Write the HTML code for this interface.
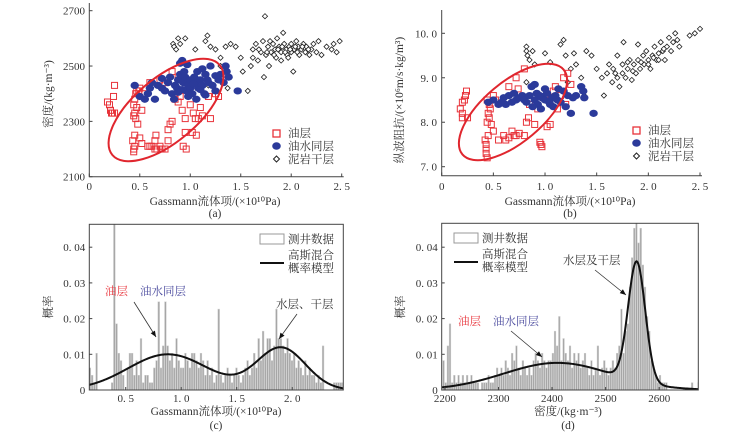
<!DOCTYPE html>
<html><head><meta charset="utf-8">
<style>
html,body{margin:0;padding:0;background:#fff;}
svg{display:block;font-family:"Liberation Serif","Noto Serif CJK SC","Noto Sans CJK SC",serif;}
.tk{font-size:11px;fill:#333;}
.lb{font-size:11.5px;fill:#333;}
</style></head>
<body>
<svg id="fig" width="746" height="435" viewBox="0 0 746 435" xmlns="http://www.w3.org/2000/svg"></svg>
<script>
// ---------- DATA ----------
const aRed=[[0.18,2370],[0.2,2360],[0.22,2330],[0.23,2330],[0.25,2330],[0.24,2390],[0.25,2430],[0.21,2340],[0.43,2230],[0.44,2200],[0.44,2190],[0.45,2210],[0.45,2250],[0.44,2320],[0.45,2330],[0.46,2310],[0.44,2360],[0.45,2380],[0.46,2400],[0.47,2410],[0.49,2410],[0.5,2420],[0.48,2290],[0.5,2240],[0.52,2220],[0.55,2400],[0.6,2440],[0.58,2210],[0.6,2210],[0.62,2210],[0.65,2200],[0.67,2200],[0.7,2210],[0.72,2200],[0.75,2200],[0.78,2230],[0.66,2250],[0.65,2230],[0.7,2450],[0.75,2440],[0.78,2270],[0.8,2290],[0.82,2300],[0.85,2380],[0.88,2370],[0.9,2390],[0.92,2340],[0.95,2310],[0.93,2210],[0.96,2200],[0.95,2260],[1.0,2360],[1.03,2330],[1.05,2310],[1.08,2310],[1.02,2260],[1.06,2250],[1.1,2350],[1.12,2320],[1.2,2310],[1.18,2390],[1.25,2400],[1.28,2390],[0.82,2480],[0.88,2460],[0.52,2340],[0.47,2350]];
const aBlue=[[0.45,2430],[0.5,2390],[0.55,2380],[0.58,2400],[0.6,2420],[0.62,2440],[0.65,2380],[0.68,2430],[0.72,2420],[0.75,2410],[0.78,2440],[0.8,2460],[0.82,2400],[0.85,2430],[0.87,2420],[0.88,2450],[0.9,2470],[0.9,2510],[0.92,2520],[0.93,2440],[0.95,2460],[0.96,2410],[0.98,2430],[1.0,2450],[1.0,2420],[1.02,2400],[1.04,2460],[1.05,2440],[1.07,2480],[1.08,2420],[1.1,2450],[1.12,2430],[1.14,2400],[1.15,2470],[1.17,2450],[1.18,2440],[1.2,2500],[1.22,2430],[1.25,2410],[1.28,2450],[1.3,2470],[1.33,2440],[1.35,2500],[1.36,2480],[1.38,2460],[1.47,2410],[0.98,2390],[1.06,2380],[0.94,2480],[1.12,2490],[0.84,2380],[1.15,2395],[1.25,2465],[0.72,2455],[0.97,2505],[0.92,2415],[1.03,2435],[1.1,2415],[0.88,2405]];
const aBlack=[[0.83,2580],[0.84,2570],[0.86,2560],[0.88,2600],[0.9,2580],[0.95,2600],[1.05,2560],[1.15,2590],[1.17,2610],[1.2,2570],[1.25,2560],[1.3,2530],[1.3,2500],[1.35,2570],[1.4,2580],[1.45,2570],[1.5,2530],[1.52,2480],[1.57,2410],[1.6,2500],[1.62,2560],[1.65,2580],[1.67,2520],[1.7,2550],[1.72,2590],[1.74,2680],[1.73,2460],[1.75,2540],[1.77,2570],[1.78,2500],[1.8,2550],[1.82,2580],[1.84,2560],[1.85,2530],[1.86,2600],[1.88,2570],[1.9,2550],[1.9,2520],[1.92,2620],[1.93,2580],[1.95,2560],[1.96,2540],[1.98,2570],[2.0,2550],[2.0,2580],[2.02,2480],[2.03,2560],[2.05,2590],[2.07,2570],[2.08,2540],[2.1,2560],[2.12,2580],[2.14,2550],[2.15,2570],[2.18,2540],[2.2,2560],[2.22,2580],[2.25,2550],[2.27,2590],[2.3,2540],[2.35,2570],[2.4,2560],[2.42,2580],[2.45,2550],[2.48,2590],[1.0,2450],[1.18,2430],[1.37,2420],[1.62,2530],[1.68,2560],[1.76,2550],[1.83,2540],[1.87,2560],[1.94,2550],[1.99,2560],[2.06,2550],[2.11,2570],[2.17,2560],[1.79,2590],[1.91,2570],[1.97,2530],[2.04,2570]];
const bRed=[[0.18,8.3],[0.2,8.2],[0.2,8.1],[0.22,8.5],[0.23,8.6],[0.24,8.7],[0.25,8.1],[0.2,8.45],[0.42,7.6],[0.43,7.5],[0.43,7.3],[0.44,7.2],[0.43,7.4],[0.45,7.7],[0.44,8.0],[0.45,8.2],[0.46,8.1],[0.47,8.3],[0.44,8.5],[0.5,8.6],[0.48,7.95],[0.5,7.8],[0.55,7.6],[0.6,7.7],[0.62,7.6],[0.65,7.65],[0.68,7.8],[0.7,7.7],[0.72,7.7],[0.75,7.75],[0.8,7.7],[0.65,8.8],[0.72,9.0],[0.74,8.75],[0.82,8.0],[0.84,8.1],[0.85,8.4],[0.9,7.95],[0.93,8.3],[0.95,7.55],[0.96,7.5],[0.97,7.45],[1.0,8.55],[1.02,7.9],[1.05,7.95],[1.08,8.7],[1.1,8.8],[1.12,8.3],[1.15,8.6],[1.18,9.0],[1.2,8.4],[1.22,9.1],[1.25,8.85],[0.8,9.2],[0.52,8.5],[0.46,8.4]];
const bBlue=[[0.45,8.45],[0.5,8.5],[0.55,8.4],[0.6,8.55],[0.62,8.4],[0.65,8.6],[0.68,8.45],[0.72,8.5],[0.75,8.55],[0.78,8.6],[0.8,8.5],[0.82,8.45],[0.85,8.6],[0.87,8.8],[0.9,8.85],[0.9,8.5],[0.93,8.4],[0.95,8.6],[0.97,8.55],[1.0,8.5],[1.02,8.65],[1.05,8.4],[1.07,8.55],[1.1,8.6],[1.12,8.5],[1.15,8.45],[1.18,8.7],[1.2,8.35],[1.22,8.6],[1.25,8.2],[1.27,8.55],[1.3,8.6],[1.35,8.8],[1.37,8.7],[1.38,8.55],[1.47,8.2],[0.88,8.35],[1.0,8.75],[0.7,8.65],[1.13,8.75],[0.96,8.3],[1.08,8.35],[0.92,8.65],[1.04,8.45],[0.58,8.45]];
const bBlack=[[0.82,9.7],[0.82,9.6],[0.83,9.5],[0.85,9.4],[0.88,9.6],[0.9,9.3],[1.0,9.55],[1.05,9.35],[1.15,9.75],[1.18,9.85],[1.2,9.5],[1.25,9.2],[1.28,9.55],[1.3,9.3],[1.35,9.0],[1.38,8.6],[1.4,9.6],[1.45,9.5],[1.5,9.2],[1.55,9.0],[1.57,8.6],[1.6,9.1],[1.62,9.3],[1.65,8.9],[1.68,9.1],[1.7,9.5],[1.72,8.8],[1.75,9.3],[1.76,9.8],[1.78,9.0],[1.8,9.2],[1.82,9.4],[1.84,8.95],[1.86,9.3],[1.88,9.1],[1.9,9.75],[1.9,9.4],[1.92,9.2],[1.95,9.5],[1.96,9.3],[1.98,9.6],[2.0,9.4],[2.02,9.2],[2.04,9.5],[2.06,9.7],[2.08,9.4],[2.1,9.55],[2.12,9.8],[2.14,9.6],[2.16,9.4],[2.18,9.7],[2.2,9.9],[2.22,9.6],[2.24,9.8],[2.26,10.0],[2.28,9.85],[2.3,9.7],[2.4,9.95],[2.45,10.0],[2.5,10.1],[0.82,8.9],[1.22,8.9],[1.3,8.6],[1.7,9.0],[1.8,9.35],[1.85,9.15],[1.93,9.35],[2.0,9.3],[2.05,9.45],[2.1,9.4],[2.15,9.65],[1.75,9.1],[1.66,9.2]];
const cCounts=[3,2,1,5,0,0,0,0,0,0,1,23,9,5,4,2,0,3,5,5,2,4,2,7,1,2,2,1,1,3,4,12,3,6,12,6,4,5,3,7,4,3,3,5,4,3,5,5,4,3,5,4,2,4,2,3,1,2,11,2,1,2,3,2,1,2,3,2,1,2,3,4,2,3,5,3,7,4,8,5,7,7,4,6,11,7,7,6,5,7,5,4,5,3,4,3,2,4,2,3,2,2,1,2,1,6,0,0,0,0,1,1,1,1,1];
const cStart=0.17, cBin=0.02;
const dCounts=[4,1,6,9,1,2,1,2,1,2,1,2,1,2,1,1,1,0,1,1,1,2,1,1,2,3,2,3,2,4,3,2,5,4,6,3,2,4,3,2,3,2,4,5,4,3,5,4,3,4,4,5,8,6,10,4,7,5,4,6,3,5,4,5,3,4,5,3,2,4,2,3,6,2,3,4,3,2,3,4,3,5,6,11,5,8,9,14,18,22,24,20,22,17,14,10,8,4,3,2,1,2,1,1,1,0,0,0,0,0,0,0,0,0,0,0,1,0,0,1];
const dStart=2196, dBin=4;
const countUnit=0.00206;
const cMeans=[0.88,1.9], cSds=[0.36,0.22], cAmps=[0.0100,0.0118];
const dMeans=[2410,2558], dSds=[100,16], dAmps=[0.0076,0.0335];
const abXTicks=[0,0.5,1.0,1.5,2.0,2.5], abXLabels=["0","0. 5","1. 0","1. 5","2. 0","2. 5"];
const aYTicks=[2100,2300,2500,2700];
const bYTicks=[7,8,9,10], bYLabels=["7. 0","8. 0","9. 0","10. 0"];
const cXTicks=[0.5,1.0,1.5,2.0], cXLabels=["0. 5","1. 0","1. 5","2. 0"];
const pYTicks=[0,0.01,0.02,0.03,0.04], pYLabels=["0","0. 01","0. 02","0. 03","0. 04"];
const dXTicks=[2200,2300,2400,2500,2600];

// ---------- helpers ----------
const svg=document.getElementById('fig');
const NS='http://www.w3.org/2000/svg';
function mk(tag,attrs,parent){const e=document.createElementNS(NS,tag);for(const k in attrs)e.setAttribute(k,attrs[k]);(parent||svg).appendChild(e);return e;}
function lin(d0,d1,p0,p1){return v=>p0+(v-d0)/(d1-d0)*(p1-p0);}
function txt(x,y,s,cls,anchor,parent,fill){const t=mk('text',{x:x,y:y,class:cls,'text-anchor':anchor||'middle'},parent);if(fill)t.style.fill=fill;t.textContent=s;return t;}

// ---------- panel a ----------
const ax=lin(0,2.5,89.3,341.7), ay=lin(2100,2700,176.7,10.7);
const ga=mk('g',{});


const gb=mk('g',{});


const gc=mk('g',{});


const gd=mk('g',{});



function scatterPanel(g,X,Y,red,blue,black){
  black.forEach(p=>{const s=2.6;const e=mk('path',{d:`M${X(p[0])},${Y(p[1])-s}L${X(p[0])+s},${Y(p[1])}L${X(p[0])},${Y(p[1])+s}L${X(p[0])-s},${Y(p[1])}Z`,fill:'#fff',stroke:'#222','stroke-width':0.8},g);
    
    });
  red.forEach(p=>{const e=mk('rect',{x:X(p[0])-3,y:Y(p[1])-3,width:6,height:6,fill:'none',stroke:'#e8333a','stroke-width':1},g);
    
    });
  blue.forEach(p=>{const e=mk('ellipse',{cx:X(p[0]),cy:Y(p[1]),rx:4.2,ry:3.6,fill:'#2b3a9a'},g);
    
    });
}
mk('path',{d:`M89.3,3V176.7H343.7`,fill:'none',stroke:'#444','stroke-width':1},ga);
abXTicks.forEach((v,i)=>{mk('line',{x1:ax(v),x2:ax(v),y1:176.7,y2:173.5,stroke:'#444'},ga);const t=txt(ax(v),190,abXLabels[i],'tk','middle',ga);});
aYTicks.forEach(v=>{mk('line',{x1:89.3,x2:92.5,y1:ay(v),y2:ay(v),stroke:'#444'},ga);const t=txt(85,ay(v)+4,String(v),'tk','end',ga);});
scatterPanel(ga,ax,ay,aRed,aBlue,aBlack);
const ea=mk('ellipse',{cx:166,cy:110,rx:70,ry:32,fill:'none',stroke:'#e0262e','stroke-width':2,transform:'rotate(-40 166 110)'},ga);



// ---------- panel b ----------
const bx=lin(0,2.5,441.7,700), by=lin(7,10,166.7,33.3);
mk('path',{d:`M441.7,10V175.7H702`,fill:'none',stroke:'#444'},gb);
abXTicks.forEach((v,i)=>{mk('line',{x1:bx(v),x2:bx(v),y1:175.7,y2:172.5,stroke:'#444'},gb);const t=txt(bx(v),190,abXLabels[i],'tk','middle',gb);});
bYTicks.forEach((v,i)=>{mk('line',{x1:441.7,x2:445,y1:by(v),y2:by(v),stroke:'#444'},gb);const t=txt(437,by(v)+4,bYLabels[i],'tk','end',gb);});
scatterPanel(gb,bx,by,bRed,bBlue,bBlack);
const eb=mk('ellipse',{cx:513,cy:112,rx:66,ry:30,fill:'none',stroke:'#e0262e','stroke-width':2,transform:'rotate(-40 513 112)'},gb);



function scLegend(g,x,y0){
  mk('rect',{x:x-3,y:y0-3,width:7,height:7,fill:'none',stroke:'#e8333a','stroke-width':1.3},g);
  mk('ellipse',{cx:x+0.5,cy:y0+13,rx:4.3,ry:3.7,fill:'#2b3a9a'},g);
  mk('path',{d:`M${x+0.5},${y0+23}l3,3l-3,3l-3,-3z`,fill:'none',stroke:'#222'},g);
  const l1=txt(x+12,y0+4,'油层','lb','start',g);
  const l2=txt(x+12,y0+17,'油水同层','lb','start',g);
  const l3=txt(x+12,y0+30,'泥岩干层','lb','start',g);
}
scLegend(ga,276,133);
scLegend(gb,636,130);
let t;
t=txt(215,205,'Gassmann流体项/(×10¹⁰Pa)','lb','middle',ga);
t=txt(215,217,'(a)','lb','middle',ga);
t=txt(0,0,'密度/(kg·m⁻³)','lb','middle',ga);t.setAttribute('transform','translate(52,94) rotate(-90)');
t=txt(570,205,'Gassmann流体项/(×10¹⁰Pa)','lb','middle',gb);
t=txt(570,217,'(b)','lb','middle',gb);
t=txt(0,0,'纵波阻抗/(×10⁶m/s·kg/m³)','lb','middle',gb);t.setAttribute('transform','translate(403,100) rotate(-90)');

// ---------- histogram panels ----------
function gauss(v,M,S,A){let s=0;for(let i=0;i<M.length;i++)s+=A[i]*Math.exp(-((v-M[i])**2)/(2*S[i]*S[i]));return s;}
function histPanel(g,L,R,T,B,x0,x1,counts,start,bin,M,S,A,clip){
  const X=lin(x0,x1,L,R), Y=lin(0,0.01,B,B-35.7);
  const cpath=mk('clipPath',{id:clip},g);
  mk('rect',{x:L,y:T,width:R-L,height:B-T},cpath);
  const bars=mk('g',{'clip-path':`url(#${clip})`},g);
  counts.forEach((c,i)=>{if(!c)return;const v=c*countUnit;const xa=X(start+i*bin),xb=X(start+(i+1)*bin);
    const r=mk('rect',{x:xa,y:Y(v),width:Math.max(xb-xa-0.5,0.8),height:B-Y(v),fill:'#a6a6a6',stroke:'#d0d0d0','stroke-width':0.5},bars);
    
    });
  let d='';for(let k=0;k<=300;k++){const v=x0+(x1-x0)*k/300;d+=(k?'L':'M')+X(v).toFixed(2)+','+Y(gauss(v,M,S,A)).toFixed(2);}
  const cv=mk('path',{d:d,fill:'none',stroke:'#111','stroke-width':2},g);
  
  
  mk('rect',{x:L,y:T,width:R-L,height:B-T,fill:'none',stroke:'#444'},g);
  pYTicks.forEach((v,i)=>{mk('line',{x1:L,x2:L+3,y1:Y(v),y2:Y(v),stroke:'#444'},g);const tt=txt(L-4,Y(v)+4,pYLabels[i],'tk','end',g);});
  return X;
}
const cX=histPanel(gc,89.3,343.3,224.3,390,0.172,2.46,cCounts,cStart,cBin,cMeans,cSds,cAmps,'clipc');
cXTicks.forEach((v,i)=>{mk('line',{x1:cX(v),x2:cX(v),y1:390,y2:387,stroke:'#444'},gc);const tt=txt(cX(v),402,cXLabels[i],'tk','middle',gc);});
const dX=histPanel(gd,441.7,698.3,223.3,390,2194,2673,dCounts,dStart,dBin,dMeans,dSds,dAmps,'clipd');
dXTicks.forEach(v=>{mk('line',{x1:dX(v),x2:dX(v),y1:390,y2:387,stroke:'#444'},gd);const tt=txt(dX(v),402,String(v),'tk','middle',gd);});

function histLegend(g,x,y){
  mk('rect',{x:x,y:y-5,width:24,height:10,fill:'#fff',stroke:'#999'},g);
  const a=txt(x+28,y+4,'测井数据','lb','start',g);
  mk('line',{x1:x,x2:x+24,y1:y+24,y2:y+24,stroke:'#111','stroke-width':2},g);
  const b=txt(x+28,y+20,'高斯混合','lb','start',g);
  const c=txt(x+28,y+33,'概率模型','lb','start',g);
}
histLegend(gc,260,239);
histLegend(gd,454,238);
function arrow(g,x1,y1,x2,y2){mk('line',{x1:x1,y1:y1,x2:x2,y2:y2,stroke:'#333','stroke-width':0.8},g);
  const a=Math.atan2(y2-y1,x2-x1),L=6,w=2.5;
  mk('path',{d:`M${x2},${y2}L${x2-L*Math.cos(a)+w*Math.sin(a)},${y2-L*Math.sin(a)-w*Math.cos(a)}L${x2-L*Math.cos(a)-w*Math.sin(a)},${y2-L*Math.sin(a)+w*Math.cos(a)}Z`,fill:'#111'},g);}
t=txt(105,295,'油层','lb','start',gc,'#e8333a');
t=txt(140,295,'油水同层','lb','start',gc,'#4a4a9e');
arrow(gc,134,302,156,337);
t=txt(276,308,'水层、干层','lb','start',gc);
arrow(gc,297,314,279,339);
t=txt(216,415,'Gassmann流体项/(×10¹⁰Pa)','lb','middle',gc);
t=txt(216,429,'(c)','lb','middle',gc);
t=txt(0,0,'概率','lb','middle',gc);t.setAttribute('transform','translate(52,307) rotate(-90)');

t=txt(563,264,'水层及干层','lb','start',gd);
arrow(gd,595,270,626,295);
t=txt(458,325,'油层','lb','start',gd,'#e8333a');
t=txt(493,325,'油水同层','lb','start',gd,'#4a4a9e');
arrow(gd,511,331,542,357);
t=txt(568,415,'密度/(kg·m⁻³)','lb','middle',gd);
t=txt(568,429,'(d)','lb','middle',gd);
t=txt(0,0,'概率','lb','middle',gd);t.setAttribute('transform','translate(404,307) rotate(-90)');
</script>
</body></html>
